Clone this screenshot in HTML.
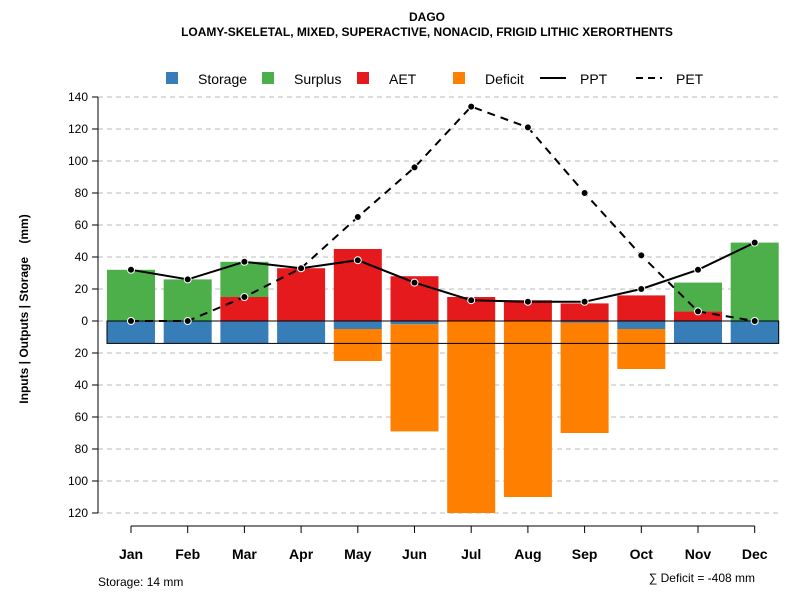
<!DOCTYPE html>
<html><head><meta charset="utf-8"><style>body{margin:0;background:#fff}svg{font-family:"Liberation Sans",sans-serif}</style></head>
<body>
<svg id="c" width="800" height="600" xmlns="http://www.w3.org/2000/svg">
<text x="427" y="21" text-anchor="middle" font-size="12" font-weight="bold">DAGO</text>
<text x="427" y="36" text-anchor="middle" font-size="12" font-weight="bold">LOAMY-SKELETAL, MIXED, SUPERACTIVE, NONACID, FRIGID LITHIC XERORTHENTS</text>
<g id="legend" font-size="14">
<rect x="166" y="72" width="12" height="12" fill="#377eb8"/><text x="198" y="84">Storage</text>
<rect x="262" y="72" width="12" height="12" fill="#4daf4a"/><text x="294" y="84">Surplus</text>
<rect x="357" y="72" width="12" height="12" fill="#e41a1c"/><text x="389" y="84">AET</text>
<rect x="453" y="72" width="12" height="12" fill="#ff7f00"/><text x="485" y="84">Deficit</text>
<line x1="540" y1="78" x2="566" y2="78" stroke="#000" stroke-width="2"/><text x="580" y="84">PPT</text>
<line x1="636" y1="78" x2="662" y2="78" stroke="#000" stroke-width="2" stroke-dasharray="7,5"/><text x="676" y="84">PET</text>
</g>
<text transform="translate(28,309) rotate(-90)" text-anchor="middle" font-size="12" font-weight="bold" xml:space="preserve" style="white-space:pre">Inputs | Outputs | Storage    (mm)</text>
<text x="98" y="586" font-size="12">Storage: 14 mm</text>
<text x="755" y="582" text-anchor="end" font-size="12">∑ Deficit = -408 mm</text>
<g id="g"></g>
</svg>
<script>
const months=["Jan","Feb","Mar","Apr","May","Jun","Jul","Aug","Sep","Oct","Nov","Dec"];
const storage=[14,14,14,14,5,2,0,0,1,5,14,14];
const aet=[0,0,15,33,45,28,15,13,11,16,6,0];
const surplus=[32,26,22,0,0,0,0,0,0,0,18,49];
const deficit=[0,0,0,0,25,69,120,110,70,30,0,0];
const ppt=[32,26,37,33,38,24,13,12,12,20,32,49];
const pet=[0,0,15,33,65,96,134,121,80,41,6,0];
const yTicks=[-120,-100,-80,-60,-40,-20,0,20,40,60,80,100,120,140];
const maxStorage=14;
const NS="http://www.w3.org/2000/svg",g=document.getElementById("g");
const y=v=>321-v*1.6, x=i=>131+i*56.7, bw=48;
function el(t,a,name){const e=document.createElementNS(NS,t);for(const k in a)e.setAttribute(k,a[k]);


g.appendChild(e);return e;}
yTicks.forEach(v=>{
 el("line",{x1:98,x2:780,y1:y(v),y2:y(v),stroke:"#bbb","stroke-dasharray":"5,4"},"gridline");
 el("line",{x1:92,x2:98,y1:y(v),y2:y(v),stroke:"#000"},"y-tick");
 const t=el("text",{x:88,y:y(v)+4,"text-anchor":"end","font-size":12},"y-tick-label");t.textContent=Math.abs(v);
});
el("line",{x1:98,x2:98,y1:y(140),y2:y(-120),stroke:"#000"},"y-axis");
el("line",{x1:x(0),x2:x(11),y1:526,y2:526,stroke:"#000"},"x-axis");
months.forEach((m,i)=>{
 const cx=x(i),l=cx-bw/2;
 el("line",{x1:cx,x2:cx,y1:526,y2:533,stroke:"#000"},"x-tick");
 const t=el("text",{x:cx,y:559,"text-anchor":"middle","font-size":14,"font-weight":"bold"},"x-tick-label");t.textContent=m;
 if(deficit[i]>0)el("rect",{x:l,y:y(-storage[i]),width:bw,height:y(-deficit[i])-y(-storage[i]),fill:"#ff7f00"},"bar-deficit-"+m.toLowerCase());
 if(storage[i]>0)el("rect",{x:l,y:y(0),width:bw,height:y(-storage[i])-y(0),fill:"#377eb8"},"bar-storage-"+m.toLowerCase());
 if(aet[i]>0)el("rect",{x:l,y:y(aet[i]),width:bw,height:y(0)-y(aet[i]),fill:"#e41a1c"},"bar-aet-"+m.toLowerCase());
 if(surplus[i]>0)el("rect",{x:l,y:y(aet[i]+surplus[i]),width:bw,height:y(aet[i])-y(aet[i]+surplus[i]),fill:"#4daf4a"},"bar-surplus-"+m.toLowerCase());
});
el("rect",{x:x(0)-bw/2,y:y(0),width:x(11)-x(0)+bw,height:y(-maxStorage)-y(0),fill:"none",stroke:"#000"},"storage-capacity-box");
const pp=ppt.map((v,i)=>x(i)+","+y(v)).join(" "), pe=pet.map((v,i)=>x(i)+","+y(v)).join(" ");
el("polyline",{points:pe,fill:"none",stroke:"#000","stroke-width":2,"stroke-dasharray":"8,6"},"pet-line");
el("polyline",{points:pp,fill:"none",stroke:"#000","stroke-width":2},"ppt-line");
pet.forEach((v,i)=>el("circle",{cx:x(i),cy:y(v),r:3.5,fill:"#000",stroke:"#fff","stroke-width":1},"pet-point"));
ppt.forEach((v,i)=>el("circle",{cx:x(i),cy:y(v),r:3.5,fill:"#000",stroke:"#fff","stroke-width":1},"ppt-point"));
</script>
</body></html>
